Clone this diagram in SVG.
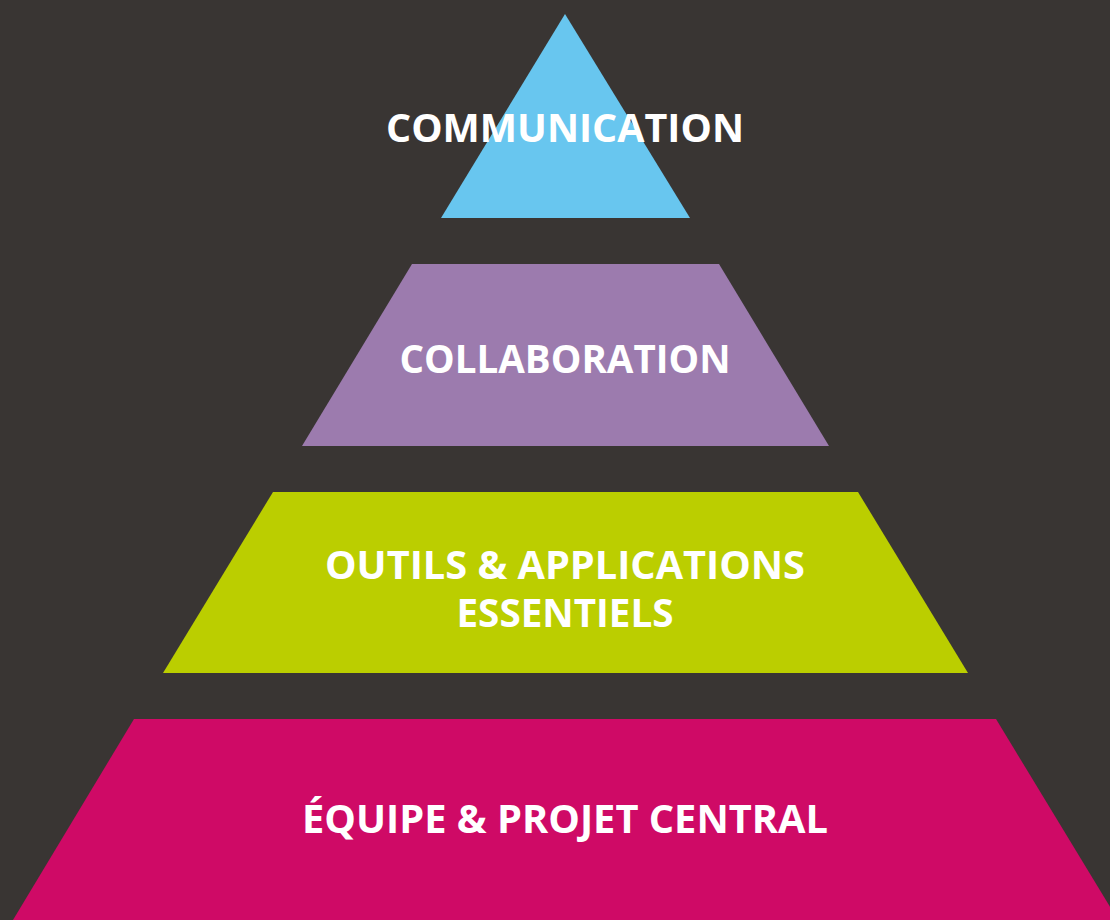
<svg xmlns="http://www.w3.org/2000/svg" width="1110" height="920" viewBox="0 0 1110 920">
  <style>
    .lbl { font-family: "Open Sans", "Liberation Sans", sans-serif; font-weight: bold; font-size: 39px; fill: #ffffff; text-anchor: middle; }
  </style>
  <rect width="1110" height="920" fill="#393533"/>
  <!-- Pyramid levels, top to bottom -->
  <g id="level-communication">
    <polygon points="565,14 690,218 441,218" fill="#68C6EF"/>
    <text class="lbl" x="565" y="142" textLength="358" lengthAdjust="spacingAndGlyphs">COMMUNICATION</text>
  </g>
  <g id="level-collaboration">
    <polygon points="412,264 719,264 829,446 302,446" fill="#9C7BAE"/>
    <text class="lbl" x="565" y="373" textLength="331" lengthAdjust="spacingAndGlyphs">COLLABORATION</text>
  </g>
  <g id="level-outils">
    <polygon points="273,492 858,492 968,673 163,673" fill="#BBCE00"/>
    <text class="lbl" x="565" y="579" textLength="480" lengthAdjust="spacingAndGlyphs">OUTILS &amp; APPLICATIONS</text>
    <text class="lbl" x="565" y="627" textLength="217" lengthAdjust="spacingAndGlyphs">ESSENTIELS</text>
  </g>
  <g id="level-equipe">
    <polygon points="134,719 996,719 1118,920 13,920" fill="#CF0A66"/>
    <text class="lbl" x="565" y="833" textLength="526" lengthAdjust="spacingAndGlyphs">ÉQUIPE &amp; PROJET CENTRAL</text>
  </g>
  <g id="connectors"/>
</svg>
